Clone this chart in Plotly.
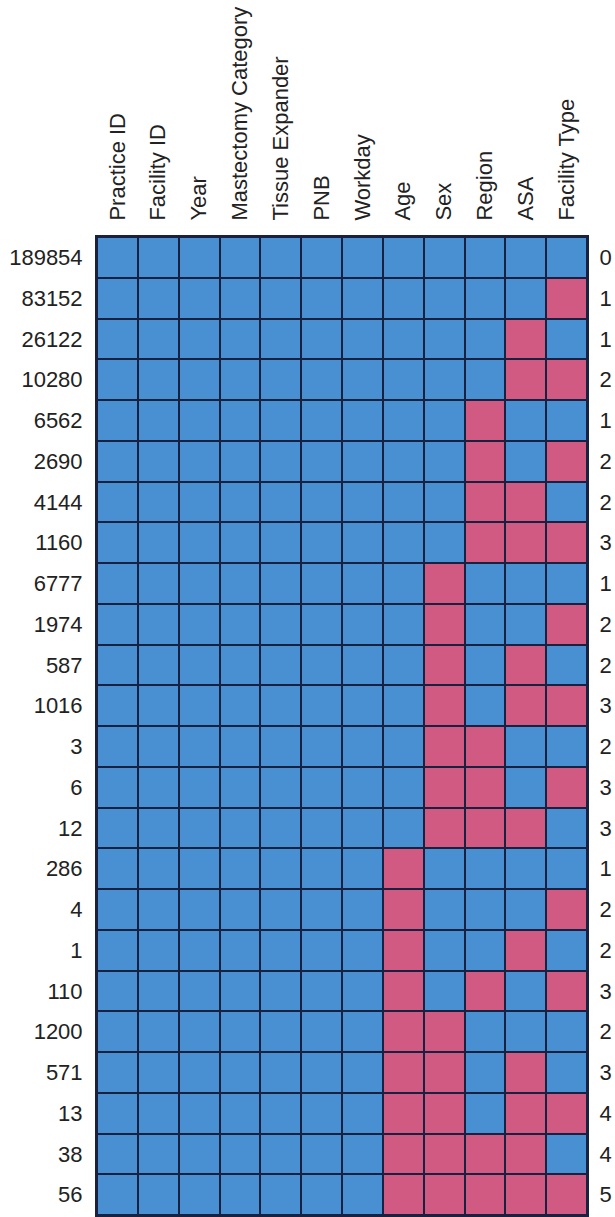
import plotly.graph_objects as go

variables = ["Practice ID", "Facility ID", "Year", "Mastectomy Category",
             "Tissue Expander", "PNB", "Workday", "Age", "Sex", "Region",
             "ASA", "Facility Type"]

row_counts = ["189854", "83152", "26122", "10280", "6562", "2690", "4144", "1160",
              "6777", "1974", "587", "1016", "3", "6", "12", "286", "4", "1",
              "110", "1200", "571", "13", "38", "56"]

# missing flags for Age, Sex, Region, ASA, Facility Type (first 7 variables always observed)
missing_last5 = [
    [0, 0, 0, 0, 0],
    [0, 0, 0, 0, 1],
    [0, 0, 0, 1, 0],
    [0, 0, 0, 1, 1],
    [0, 0, 1, 0, 0],
    [0, 0, 1, 0, 1],
    [0, 0, 1, 1, 0],
    [0, 0, 1, 1, 1],
    [0, 1, 0, 0, 0],
    [0, 1, 0, 0, 1],
    [0, 1, 0, 1, 0],
    [0, 1, 0, 1, 1],
    [0, 1, 1, 0, 0],
    [0, 1, 1, 0, 1],
    [0, 1, 1, 1, 0],
    [1, 0, 0, 0, 0],
    [1, 0, 0, 0, 1],
    [1, 0, 0, 1, 0],
    [1, 0, 1, 0, 1],
    [1, 1, 0, 0, 0],
    [1, 1, 0, 1, 0],
    [1, 1, 0, 1, 1],
    [1, 1, 1, 1, 0],
    [1, 1, 1, 1, 1],
]

n_missing = ["0", "1", "1", "2", "1", "2", "2", "3", "1", "2", "2", "3", "2", "3",
             "3", "1", "2", "2", "3", "2", "3", "4", "4", "5"]

z = [[0] * 7 + r for r in missing_last5]
nrows = len(row_counts)
ncols = len(variables)

BLUE = "#4890d1"
PINK = "#d05a82"
LINE = "#18213f"
FONT = dict(family="Liberation Sans, Arial, sans-serif", size=22, color="#222222")

fig = go.Figure()
fig.add_trace(go.Heatmap(
    z=z, x=list(range(ncols)), y=list(range(nrows)),
    colorscale=[[0, BLUE], [0.5, BLUE], [0.5, PINK], [1, PINK]],
    zmin=0, zmax=1, showscale=False, xgap=2, ygap=2, hoverinfo="skip",
))
fig.add_trace(go.Scatter(
    x=[ncols - 1] * nrows, y=list(range(nrows)), yaxis="y2",
    mode="markers", marker=dict(opacity=0), hoverinfo="skip", showlegend=False,
))

fig.update_layout(
    width=615, height=1217,
    margin=dict(l=97, r=28, t=237, b=0),
    paper_bgcolor="white", plot_bgcolor=LINE,
    font=FONT, showlegend=False,
    xaxis=dict(side="top", tickvals=list(range(ncols)), ticktext=variables,
               tickangle=-90, range=[-0.5, ncols - 0.5], showgrid=False,
               zeroline=False, ticks="outside", ticklen=10,
               tickcolor="rgba(0,0,0,0)", showline=True, linecolor=LINE,
               linewidth=2, mirror=True, tickfont=FONT),
    yaxis=dict(tickvals=list(range(nrows)), ticktext=row_counts,
               range=[nrows - 0.5, -0.5], showgrid=False, zeroline=False,
               ticks="outside", ticklen=8, tickcolor="rgba(0,0,0,0)",
               showline=True, linecolor=LINE, linewidth=2, mirror=True,
               tickfont=FONT),
    yaxis2=dict(overlaying="y", side="right", tickvals=list(range(nrows)),
                ticktext=n_missing, range=[nrows - 0.5, -0.5], showgrid=False,
                zeroline=False, ticks="outside", ticklen=7,
                tickcolor="rgba(0,0,0,0)", tickfont=FONT),
)

# remove the default page margin so the figure fills the window exactly
fig.write_html(
    "out.html",
    config={"displayModeBar": False},
    post_script="document.body.style.margin='0px';"
                "document.documentElement.style.overflow='hidden';",
)
